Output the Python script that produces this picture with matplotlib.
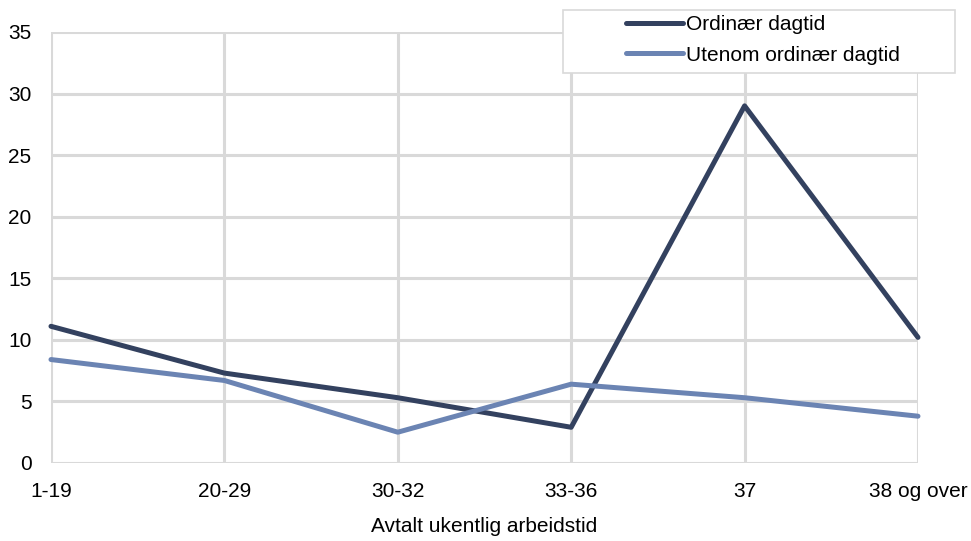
import matplotlib.pyplot as plt
import numpy as np
from matplotlib.patches import Rectangle

plt.rcParams['font.family'] = ['Liberation Sans', 'DejaVu Sans']

categories = ['1-19', '20-29', '30-32', '33-36', '37', '38 og over']
ordinaer = [11.1, 7.3, 5.3, 2.9, 29.0, 10.2]
utenom = [8.4, 6.7, 2.5, 6.4, 5.3, 3.8]

fig = plt.figure(figsize=(9.71, 5.41), dpi=100)
ax = fig.add_axes([0.0525, 0.1442, 0.8929, 0.7967])

x = np.arange(len(categories))
ax.plot(x, ordinaer, color='#33415f', lw=3.6, label='Ordinær dagtid',
        solid_capstyle='round', clip_on=False, zorder=3)
ax.plot(x, utenom, color='#6b84b3', lw=3.6, label='Utenom ordinær dagtid',
        solid_capstyle='round', clip_on=False, zorder=3)

ax.set_xlim(0, len(categories) - 1)
ax.set_ylim(0, 35)
ax.set_xticks(x)
ax.set_xticklabels(categories)
ax.set_yticks(range(0, 36, 5))
ax.grid(True, color='#d9d9d9', lw=2.2)
ax.set_axisbelow(True)
for s in ax.spines.values():
    s.set_visible(False)
ax.tick_params(length=0, labelsize=15, pad=14)
ax.tick_params(axis='y', pad=14)
ax.set_xlabel('Avtalt ukentlig arbeidstid', fontsize=15, labelpad=11)

# legend frame (Excel-style, entries centred)
fig.patches.append(Rectangle((563/971, 1 - 73/541), 392/971, 63/541,
                             transform=fig.transFigure, facecolor='white',
                             edgecolor='#d9d9d9', lw=1.2, zorder=5))
leg = fig.legend(loc='upper left', bbox_to_anchor=(620/971, 1 - 9/541), fontsize=15,
                 frameon=False, handlelength=2.7, handletextpad=0.15,
                 borderpad=0.3, labelspacing=0.55, borderaxespad=0)
leg.set_zorder(6)

fig.savefig('out.png', dpi=100)
